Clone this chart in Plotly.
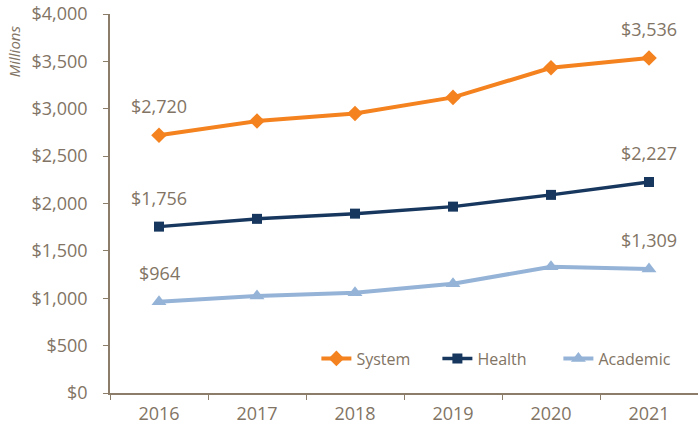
import plotly.graph_objects as go

years = ["2016", "2017", "2018", "2019", "2020", "2021"]
system = [2720, 2870, 2950, 3120, 3432, 3536]
health = [1756, 1838, 1893, 1967, 2091, 2227]
academic = [964, 1025, 1057, 1154, 1332, 1309]
series_names = ["System", "Health", "Academic"]
y_ticks = [0, 500, 1000, 1500, 2000, 2500, 3000, 3500, 4000]
y_tick_labels = ["$0", "$500", "$1,000", "$1,500", "$2,000", "$2,500", "$3,000", "$3,500", "$4,000"]

text_color = "#827464"
axis_color = "#8C7D6B"
font_family = "'Open Sans', sans-serif"

fig = go.Figure()
styles = [
    (system, "#F4821F", "diamond", 12, 4),
    (health, "#17375E", "square", 10, 3.5),
    (academic, "#95B3D7", "triangle-up", 13, 4),
]
for name, (vals, color, sym, msize, lw) in zip(series_names, styles):
    fig.add_trace(go.Scatter(
        x=years, y=vals, name=name, mode="lines+markers",
        line=dict(color=color, width=lw),
        marker=dict(symbol=sym, size=msize, color=color),
    ))
    for idx in (0, len(years) - 1):
        fig.add_annotation(
            x=idx, y=vals[idx], xref="x", yref="y",
            text="${:,}".format(vals[idx]),
            showarrow=False, yshift=29,
            font=dict(size=18, color=text_color, family=font_family),
        )

fig.add_annotation(
    xref="paper", yref="paper", x=-0.163, y=0.902, xanchor="center", yanchor="middle",
    text="<i>Millions</i>", textangle=-90, showarrow=False,
    font=dict(size=15, color=text_color, family=font_family),
)

fig.update_layout(
    width=698, height=428,
    margin=dict(l=110, r=0, t=14, b=35),
    paper_bgcolor="white", plot_bgcolor="white",
    font=dict(family=font_family, color=text_color, size=16),
    showlegend=True,
    legend=dict(orientation="h", x=0.351, y=0.091, xanchor="left", yanchor="middle",
                entrywidth=76, entrywidthmode="pixels",
                font=dict(size=16, color=text_color, family=font_family),
                bgcolor="rgba(0,0,0,0)", tracegroupgap=0),
    xaxis=dict(
        type="category", showline=True, linecolor=axis_color, linewidth=1.5,
        ticks="outside", tickson="boundaries", ticklen=5, tickcolor=axis_color,
        ticklabelstandoff=4,
        showgrid=False, tickfont=dict(size=18, color=text_color), range=[-0.5, 5.5],
    ),
    yaxis=dict(
        range=[0, 4000], tickvals=y_ticks, ticktext=y_tick_labels,
        showline=True, linecolor=axis_color, linewidth=1.5,
        ticks="outside", ticklen=5, tickcolor=axis_color,
        ticklabelstandoff=12,
        showgrid=False, zeroline=False, tickfont=dict(size=18, color=text_color),
    ),
)

fig.write_html("out.html", config={"displayModeBar": False},
               post_script="document.body.style.margin='0';")
